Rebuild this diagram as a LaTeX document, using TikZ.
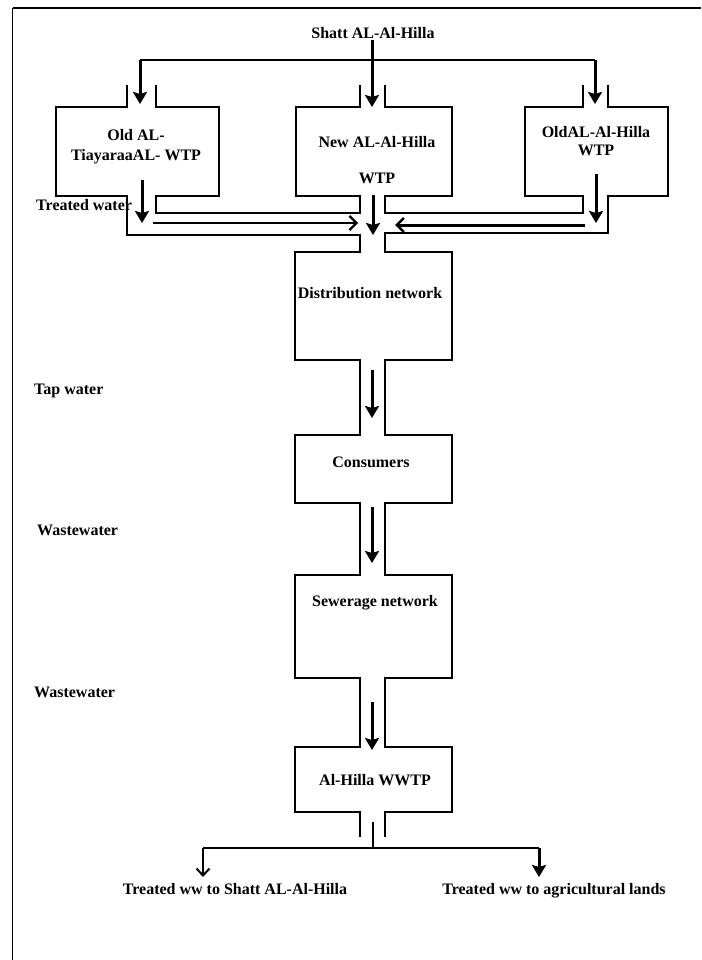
\documentclass[tikz,border=0pt]{standalone}
\usepackage{fontspec}
\setmainfont{Liberation Serif}
\usetikzlibrary{arrows.meta}
\begin{document}
\begin{tikzpicture}[x=1pt,y=-1pt,
  pipe/.style={line width=1.2pt,line join=miter},
  flow/.style={line width=3pt,-{Stealth[length=12pt,width=14pt,inset=2pt]}},
  thinflow/.style={line width=1.5pt,-{Straight Barb[length=7pt,width=14pt,line width=2.2pt]}},
  thickflow/.style={line width=3pt,-{Straight Barb[length=7pt,width=14pt,line width=2.6pt]}},
  lbl/.style={font=\fontsize{16}{20}\selectfont\bfseries,inner sep=0pt,align=center},
  side/.style={lbl,anchor=west}]
\useasboundingbox (0,0) rectangle (701,960);
% frame
\draw[line width=2pt] (12.5,8) -- (701,8);
\draw[line width=1.2pt] (12.5,8) -- (12.5,960);

% pipe outlines
\draw[pipe] (127,85) -- (127,107) -- (56,107) -- (56,196) -- (127,196) -- (127,235) -- (360,235) -- (360,252)
  -- (295,252) -- (295,360) -- (360,360) -- (360,435) -- (295,435) -- (295,503) -- (360,503) -- (360,575)
  -- (295,575) -- (295,678) -- (360,678) -- (360,747) -- (295,747) -- (295,812) -- (360,812) -- (360,837);
\draw[pipe] (156,85) -- (156,107) -- (219,107) -- (219,196) -- (156,196) -- (156,213) -- (360,213) -- (360,196)
  -- (296,196) -- (296,107) -- (360,107) -- (360,85);
\draw[pipe] (385,85) -- (385,107) -- (452,107) -- (452,196) -- (385,196) -- (385,213) -- (583,213) -- (583,196)
  -- (525,196) -- (525,107) -- (583,107) -- (583,85);
\draw[pipe] (608,85) -- (608,107) -- (668,107) -- (668,196) -- (608,196) -- (608,233) -- (385,233) -- (385,252)
  -- (452,252) -- (452,360) -- (385,360) -- (385,435) -- (452,435) -- (452,503) -- (385,503) -- (385,575)
  -- (452,575) -- (452,678) -- (385,678) -- (385,747) -- (452,747) -- (452,812) -- (385,812) -- (385,837);

% labels
\node[lbl] (shatt) at (373,33) {Shatt AL-Al-Hilla};
\node[lbl] (oldt) at (136,147) {Old AL-\\TiayaraaAL- WTP};
\node[lbl] (newh) at (377,160) {New AL-Al-Hilla\\[16pt]WTP};
\node[lbl] (oldh) at (596,141) {OldAL-Al-Hilla\\[-2pt]WTP};
\node[side] (tw) at (36,205) {Treated water};
\node[lbl] (dist) at (370,293) {Distribution network};
\node[side] (tap) at (34,391) {Tap water};
\node[lbl] (cons) at (371,462) {Consumers};
\node[side] (ww1) at (37,530) {Wastewater};
\node[lbl] (sew) at (375,603) {Sewerage network};
\node[side] (ww2) at (34,692) {Wastewater};
\node[lbl] (wwtp) at (375,780) {Al-Hilla WWTP};
\node[lbl,anchor=base] (out1) at (235,894) {Treated ww to Shatt AL-Al-Hilla};
\node[lbl,anchor=base] (out2) at (554,894) {Treated ww to agricultural lands};

% coordinates
\coordinate (s0) at (372,40);
\coordinate (sL) at (140,60);
\coordinate (sR) at (595,60);
\coordinate (inL) at (140,104);
\coordinate (inC) at (372,107);
\coordinate (inR) at (595,104);
\coordinate (aL0) at (142,180);
\coordinate (aL1) at (142,223);
\coordinate (aR0) at (596,174);
\coordinate (aR1) at (596,223);
\coordinate (aC0) at (373,195);
\coordinate (aC1) at (373,235);
\coordinate (hL0) at (153,223);
\coordinate (hL1) at (358,223);
\coordinate (hR0) at (585,225);
\coordinate (hR1) at (395,225);
\coordinate (b1a) at (372,370);
\coordinate (b1b) at (372,418);
\coordinate (b2a) at (372,507);
\coordinate (b2b) at (372,563);
\coordinate (b3a) at (372,702);
\coordinate (b3b) at (372,750);
\coordinate (o0) at (373,822);
\coordinate (o1) at (373,848);
\coordinate (oL) at (203,848);
\coordinate (oR) at (539,848);
\coordinate (oL1) at (203,877);
\coordinate (oR1) at (539,877);

% flows
\draw[flow] (s0) -- (inC);
\draw[line width=2pt] (sL) -- (sR);
\draw[flow] (sL) -- (inL);
\draw[flow] (sR) -- (inR);
\draw[flow] (aL0) -- (aL1);
\draw[flow] (aR0) -- (aR1);
\draw[flow] (aC0) -- (aC1);
\draw[thinflow] (hL0) -- (hL1);
\draw[thickflow] (hR0) -- (hR1);
\draw[flow] (b1a) -- (b1b);
\draw[flow] (b2a) -- (b2b);
\draw[flow] (b3a) -- (b3b);
\draw[line width=1.5pt] (o0) -- (o1);
\draw[line width=1.5pt] (oL) -- (oR);
\draw[line width=1.5pt,-{Straight Barb[length=7pt,width=13pt,line width=2pt]}] (oL) -- (oL1);
\draw[flow] (oR) -- (oR1);
\end{tikzpicture}
\end{document}
